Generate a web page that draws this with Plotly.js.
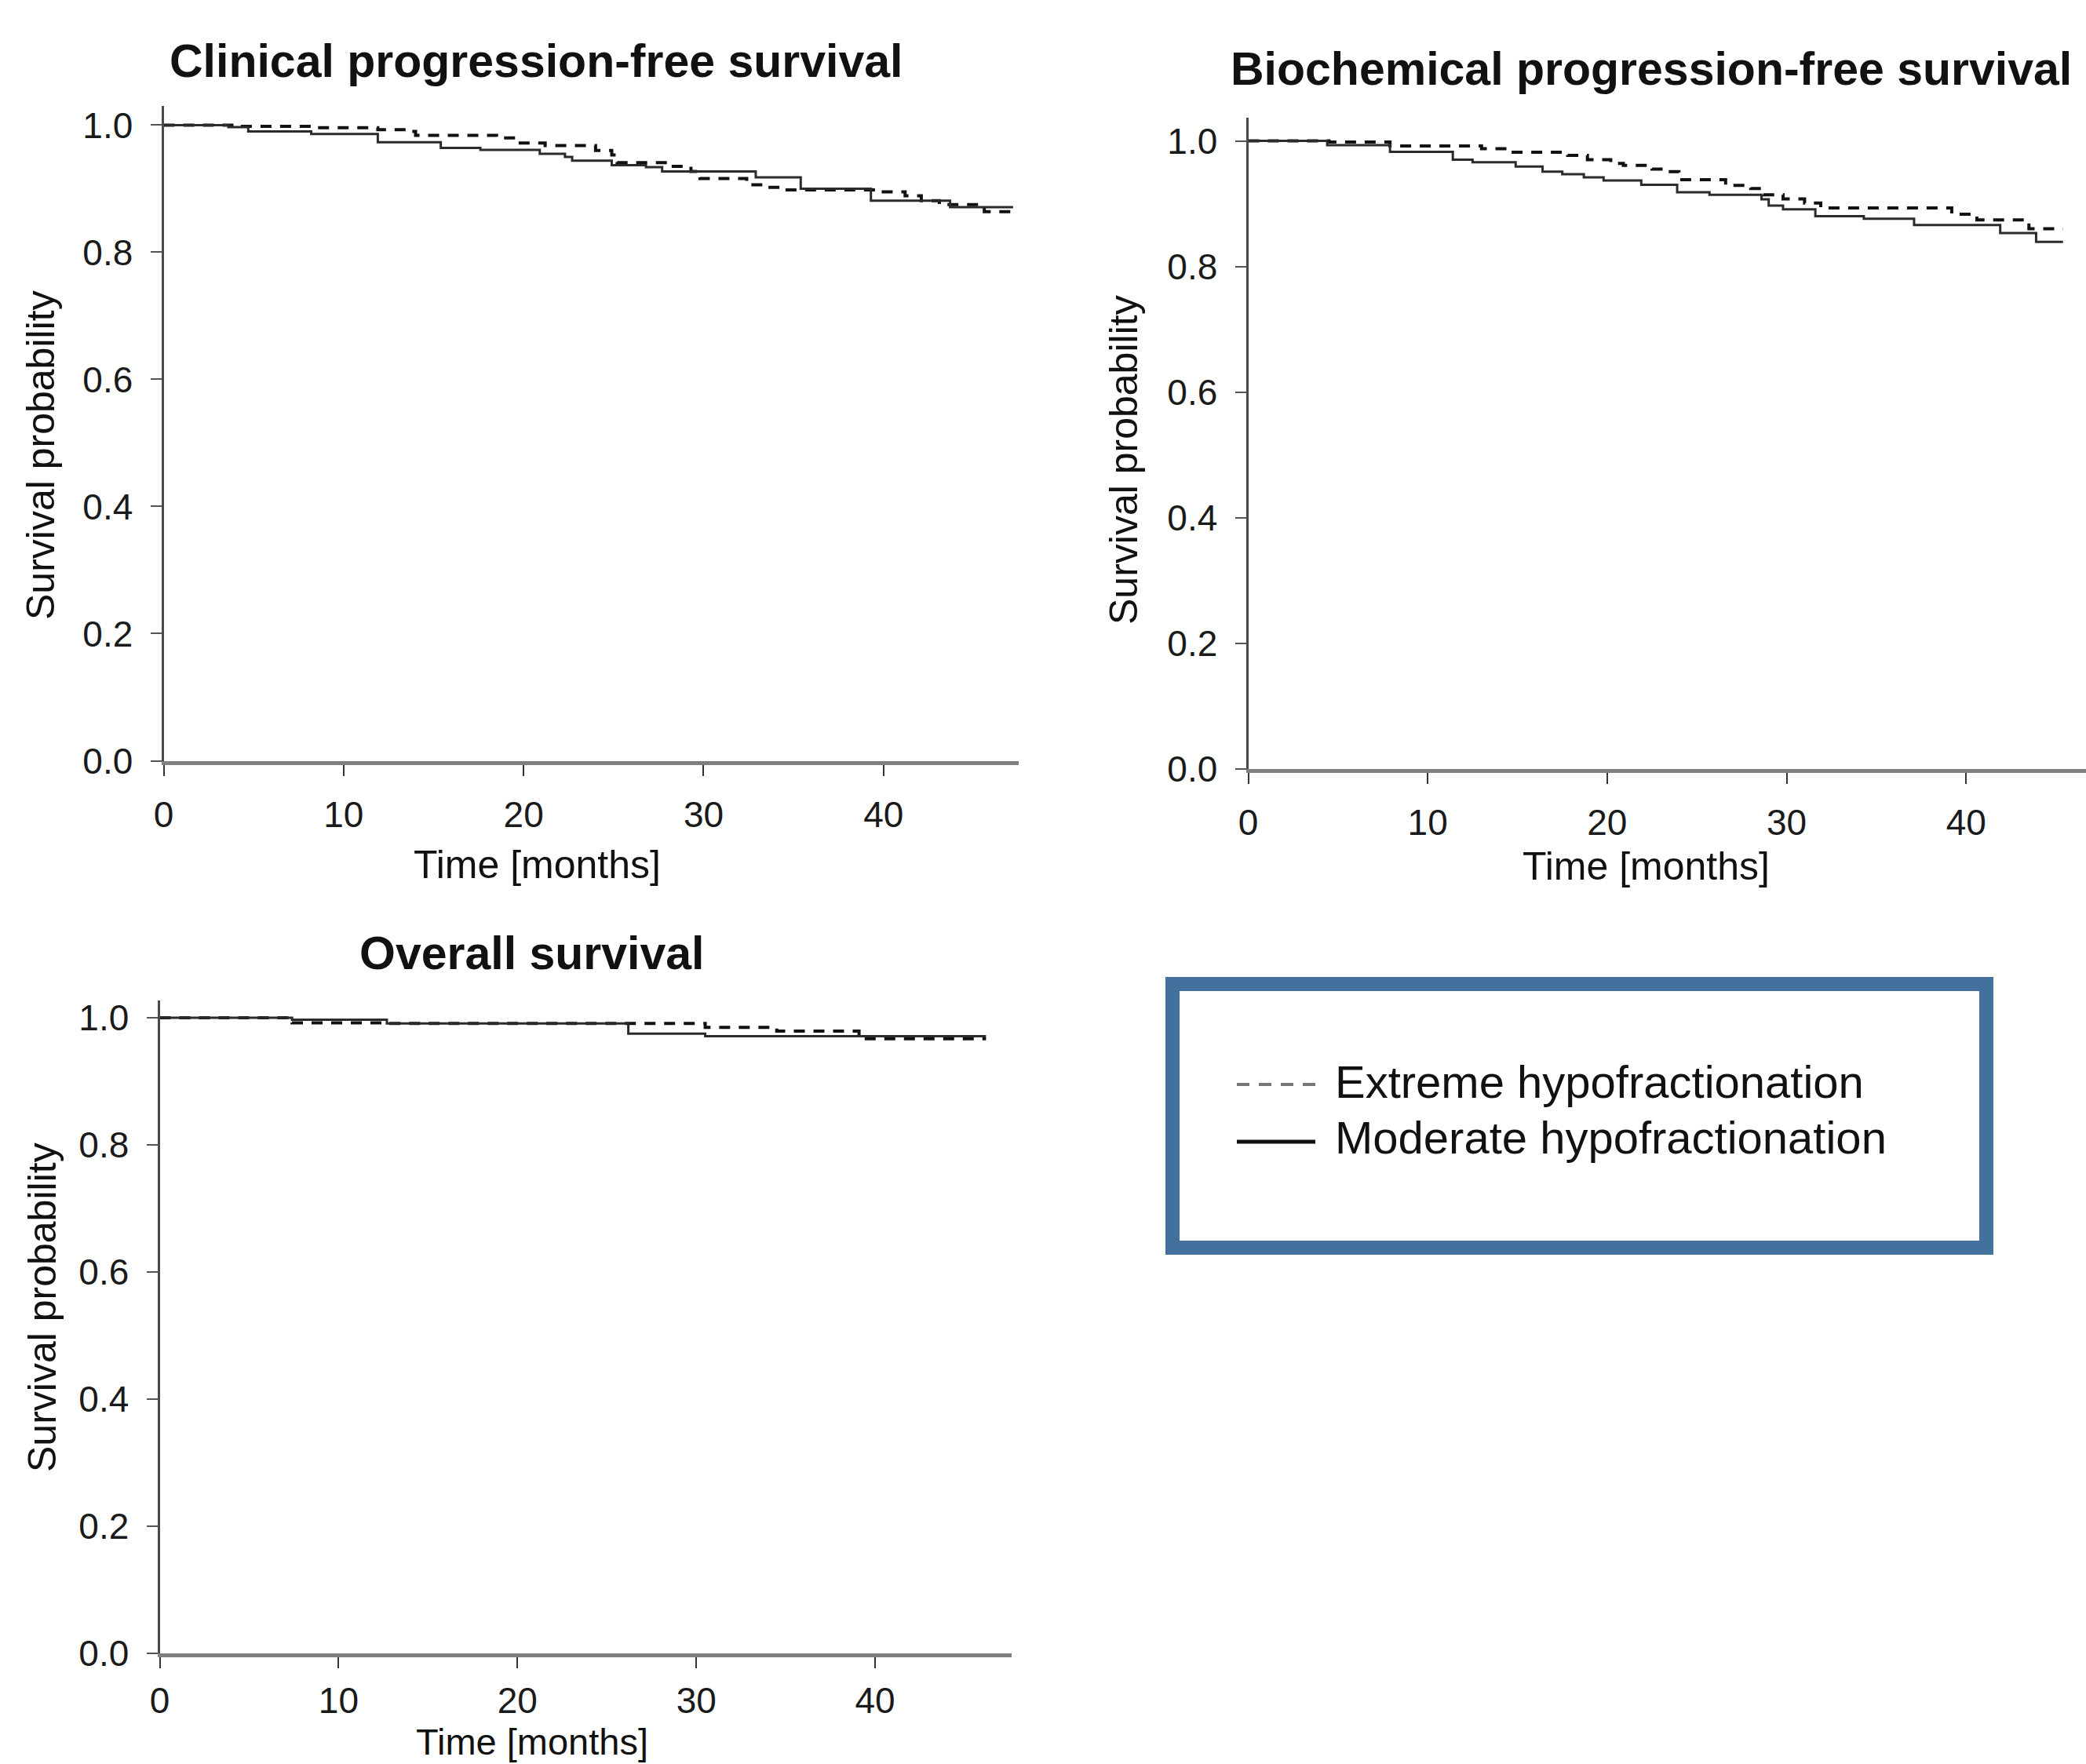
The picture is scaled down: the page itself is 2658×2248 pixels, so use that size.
<!DOCTYPE html>
<html>
<head>
<meta charset="utf-8">
<script src="https://cdn.plot.ly/plotly-3.0.1.min.js"></script>
<style>
  html, body { margin: 0; padding: 0; background: #ffffff; }
  #chart { width: 2658px; height: 2248px; }
</style>
</head>
<body>
<div id="chart"></div>
<script>
// ---------------- DATA ----------------
const panelTitles = ["Clinical progression-free survival", "Biochemical progression-free survival", "Overall survival"];
const seriesNames = ["Extreme hypofractionation", "Moderate hypofractionation"];
const xAxisTitle = "Time [months]";
const yAxisTitle = "Survival probability";
const xTickValues = [0, 10, 20, 30, 40];
const yTickValues = [0.0, 0.2, 0.4, 0.6, 0.8, 1.0];
const yTickLabels = ["0.0", "0.2", "0.4", "0.6", "0.8", "1.0"];

// Clinical progression-free survival
const cpfsModerateTime = [0, 3.6, 4.7, 8.2, 11.9, 15.4, 17.6, 20.9, 22.3, 22.7, 24.9, 26.8, 27.7, 32.9, 35.4, 39.3, 43.7, 47.2];
const cpfsModerateSurv = [1.0, 0.997, 0.990, 0.986, 0.973, 0.964, 0.961, 0.955, 0.950, 0.944, 0.937, 0.934, 0.927, 0.918, 0.900, 0.881, 0.871, 0.871];
const cpfsExtremeTime = [0, 4.2, 8.2, 11.9, 13.5, 14.0, 18.5, 19.6, 21.2, 24.0, 24.9, 25.2, 28.1, 29.3, 29.8, 32.4, 33.4, 34.5, 39.7, 41.2, 42.1, 43.1, 45.6, 47.3];
const cpfsExtremeSurv = [1.0, 0.998, 0.996, 0.993, 0.990, 0.984, 0.980, 0.972, 0.968, 0.960, 0.953, 0.941, 0.935, 0.927, 0.916, 0.906, 0.902, 0.898, 0.895, 0.889, 0.881, 0.875, 0.864, 0.864];

// Biochemical progression-free survival
const bpfsModerateTime = [0, 4.4, 7.9, 11.4, 12.5, 14.9, 16.4, 17.5, 18.7, 19.8, 21.9, 23.9, 25.7, 28.6, 29.0, 29.8, 31.6, 34.3, 37.1, 41.9, 43.9, 45.4];
const bpfsModerateSurv = [1.0, 0.993, 0.9825, 0.970, 0.966, 0.959, 0.951, 0.947, 0.942, 0.937, 0.930, 0.918, 0.914, 0.907, 0.897, 0.891, 0.880, 0.876, 0.866, 0.853, 0.839, 0.839];
const bpfsExtremeTime = [0, 4.5, 7.9, 13.0, 14.3, 17.8, 18.9, 20.2, 20.9, 22.5, 23.4, 24.0, 26.6, 28.0, 28.7, 29.8, 31.0, 31.9, 39.2, 40.6, 43.5, 45.4];
const bpfsExtremeSurv = [1.0, 0.998, 0.992, 0.9875, 0.982, 0.977, 0.970, 0.964, 0.961, 0.955, 0.951, 0.938, 0.929, 0.924, 0.914, 0.9075, 0.901, 0.893, 0.883, 0.874, 0.860, 0.860];

// Overall survival
const osModerateTime = [0, 7.4, 12.7, 26.2, 30.5, 46.2];
const osModerateSurv = [1.0, 0.997, 0.991, 0.975, 0.971, 0.971];
const osExtremeTime = [0, 7.4, 12.7, 30.5, 34.5, 39.1, 46.2];
const osExtremeSurv = [1.0, 0.992, 0.991, 0.985, 0.979, 0.967, 0.967];

// ---------------- LAYOUT HELPERS ----------------
const W = 2658, H = 2248;
const FONT = "Liberation Sans, Arial, Helvetica, sans-serif";
const px = v => v / W;          // pixel x -> paper
const py = v => 1 - v / H;      // pixel y -> paper

const extremeStyle = { color: "#111111", width: 4, dash: "14px,11px", shape: "hv" };
const moderateStyle = { color: "#2b2b2b", width: 3, shape: "hv" };

function km(x, y, name, style, xa, ya) {
  return { type: "scatter", mode: "lines", x: x, y: y, name: name, line: style,
           xaxis: xa, yaxis: ya, showlegend: false, hoverinfo: "x+y+name" };
}

const traces = [
  km(cpfsExtremeTime, cpfsExtremeSurv, seriesNames[0], extremeStyle, "x", "y"),
  km(cpfsModerateTime, cpfsModerateSurv, seriesNames[1], moderateStyle, "x", "y"),
  km(bpfsExtremeTime, bpfsExtremeSurv, seriesNames[0], extremeStyle, "x2", "y2"),
  km(bpfsModerateTime, bpfsModerateSurv, seriesNames[1], moderateStyle, "x2", "y2"),
  km(osExtremeTime, osExtremeSurv, seriesNames[0], extremeStyle, "x3", "y3"),
  km(osModerateTime, osModerateSurv, seriesNames[1], moderateStyle, "x3", "y3")
];

function xAxis(domain, range, anchor, standoff) {
  return {
    domain: domain, range: range, anchor: anchor,
    tickmode: "array", tickvals: xTickValues, ticktext: xTickValues.map(String),
    ticks: "outside", ticklen: 14, tickwidth: 2, tickcolor: "#333333",
    ticklabelstandoff: standoff,
    showline: true, linecolor: "#808080", linewidth: 5,
    showgrid: false, zeroline: false, fixedrange: true,
    tickfont: { family: FONT, size: 46, color: "#1a1a1a" }
  };
}
function yAxis(domain, range, anchor) {
  return {
    domain: domain, range: range, anchor: anchor,
    tickmode: "array", tickvals: yTickValues, ticktext: yTickLabels,
    ticks: "outside", ticklen: 14, tickwidth: 2, tickcolor: "#555555",
    ticklabelstandoff: 13,
    showline: true, linecolor: "#4a4a4a", linewidth: 3,
    showgrid: false, zeroline: false, fixedrange: true,
    tickfont: { family: FONT, size: 46, color: "#1a1a1a" }
  };
}

function label(text, x, y, size, bold, angle) {
  return {
    xref: "paper", yref: "paper", x: px(x), y: py(y),
    xanchor: "center", yanchor: "middle", showarrow: false,
    text: bold ? "<b>" + text + "</b>" : text, textangle: angle || 0,
    font: { family: FONT, size: size, color: "#111111" }
  };
}
function legendText(text, x, y) {
  return {
    xref: "paper", yref: "paper", x: px(x), y: py(y),
    xanchor: "left", yanchor: "middle", showarrow: false, text: text,
    font: { family: FONT, size: 58, color: "#111111" }
  };
}

const layout = {
  width: W, height: H,
  margin: { l: 0, r: 0, t: 0, b: 0 },
  paper_bgcolor: "#ffffff", plot_bgcolor: "#ffffff",
  showlegend: false,
  xaxis:  xAxis([px(208.5), px(1298)], [0, 47.51], "y", 10),
  yaxis:  yAxis([py(969.5), py(135)], [0, 1.0302], "x"),
  xaxis2: xAxis([px(1590.5), 1.0], [0, 46.68], "y2", 10),
  yaxis2: yAxis([py(979.5), py(150)], [0, 1.0369], "x2"),
  xaxis3: xAxis([px(203.5), px(1289)], [0, 47.63], "y3", 2),
  yaxis3: yAxis([py(2106.5), py(1275)], [0, 1.0272], "x3"),
  annotations: [
    label(panelTitles[0], 683, 78, 59, true),
    label(panelTitles[1], 2104, 88, 59, true),
    label(panelTitles[2], 678, 1215, 59, true),
    label(xAxisTitle, 684, 1102, 50, false),
    label(xAxisTitle, 2097, 1104, 50, false),
    label(xAxisTitle, 678, 2219, 47, false),
    label(yAxisTitle, 52, 580, 50, false, -90),
    label(yAxisTitle, 1432, 586, 50, false, -90),
    label(yAxisTitle, 54, 1666, 50, false, -90),
    legendText(seriesNames[0], 1699, 1378),
    legendText(seriesNames[1], 1699, 1449)
  ],
  shapes: [
    { type: "rect", xref: "paper", yref: "paper",
      x0: px(1494), x1: px(2531), y0: py(1254), y1: py(1590),
      line: { color: "#43719e", width: 18 }, fillcolor: "rgba(0,0,0,0)" },
    { type: "line", xref: "paper", yref: "paper",
      x0: px(1576), x1: px(1676), y0: py(1382), y1: py(1382),
      line: { color: "#777777", width: 4, dash: "16px,12px" } },
    { type: "line", xref: "paper", yref: "paper",
      x0: px(1576), x1: px(1676), y0: py(1455), y1: py(1455),
      line: { color: "#111111", width: 5 } }
  ]
};

Plotly.newPlot("chart", traces, layout, { displayModeBar: false, staticPlot: true });
</script>
</body>
</html>
